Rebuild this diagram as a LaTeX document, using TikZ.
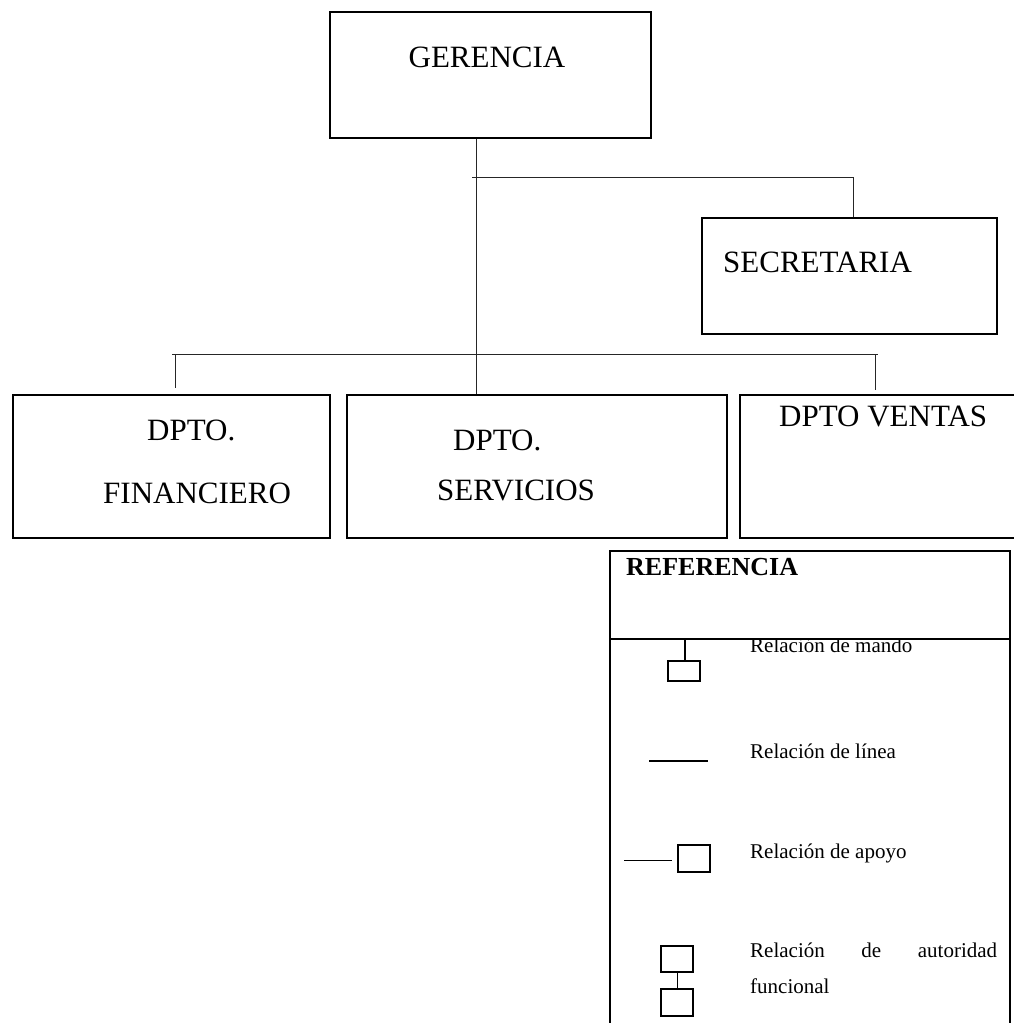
\documentclass[tikz,border=0pt]{standalone}
\usepackage{fontspec}
\setmainfont{Liberation Serif}
\usetikzlibrary{calc}
\begin{document}
\begin{tikzpicture}[x=1pt,y=-1pt,
  orgbox/.style={draw=black, line width=1.6pt, anchor=north west, inner sep=0pt},
  conn/.style={draw=black!85, line width=1pt},
  lbl/.style={anchor=base west, inner sep=0pt, font=\fontsize{31}{37}\selectfont},
  leglbl/.style={anchor=base west, inner sep=0pt, font=\fontsize{21}{25}\selectfont},
  legsym/.style={draw=black, line width=2.6pt},
]
\useasboundingbox (0,0) rectangle (1014,1023);
\clip (0,0) rectangle (1014,1023);

% organisation boxes
\node[orgbox, minimum width=321pt, minimum height=126pt] (ger) at (329,11) {};
\node[orgbox, minimum width=295pt, minimum height=116pt] (sec) at (701,217) {};
\node[orgbox, minimum width=317pt, minimum height=143pt] (fin) at (12,394) {};
\node[orgbox, minimum width=380pt, minimum height=143pt] (serv) at (346,394) {};
\node[orgbox, minimum width=290pt, minimum height=143pt] (ven) at (739,394) {};

% box labels
\node[lbl, anchor=base] (tger) at (487,67) {GERENCIA};
\node[lbl] (tsec) at (723,272) {SECRETARIA};
\node[lbl] (tfin1) at (147,440) {DPTO.};
\node[lbl] (tfin2) at (103,503) {FINANCIERO};
\node[lbl] (tserv1) at (453,450) {DPTO.};
\node[lbl] (tserv2) at (437,500) {SERVICIOS};
\node[lbl] (tven) at (779,426) {DPTO VENTAS};

% connectors
\coordinate (trunk) at (476,0);
\coordinate (secjoin) at (472,177);
\coordinate (secdrop) at (853,0);
\coordinate (barL) at (172,354);
\coordinate (barR) at (878,354);
\coordinate (finend) at (175,388);
\coordinate (venend) at (875,390);

\draw[conn] (ger.south -| trunk) -- (serv.north -| trunk);
\draw[conn] (secjoin) -| (sec.north -| secdrop);
\draw[conn] (barL) -- (barR);
\draw[conn] (barL -| finend) -- (finend);
\draw[conn] (barR -| venend) -- (venend);

% legend frame
\draw[line width=1.6pt] (610,1040) -- (610,551) -- (1010,551) -- (1010,1040);
\draw[line width=1.6pt] (610,639) -- (1010,639);
\node[anchor=base west, inner sep=0pt, font=\fontsize{26}{31}\selectfont\bfseries] (legtitle) at (626,575) {REFERENCIA};

% legend: relacion de mando
\begin{scope}
  \clip (610,640) rectangle (1010,700);
  \node[leglbl] (lmando) at (750,652) {Relación de mando};
\end{scope}
\draw[legsym] (685,639) -- (685,661);
\draw[legsym] (668,661) rectangle (700,681);

% legend: relacion de linea
\draw[line width=2pt] (649,761) -- (708,761);
\node[leglbl] (llinea) at (750,758) {Relación de línea};

% legend: relacion de apoyo
\draw[line width=1pt] (624,860) -- (672,860);
\draw[legsym] (678,845) rectangle (710,872);
\node[leglbl] (lapoyo) at (750,858) {Relación de apoyo};

% legend: relacion de autoridad funcional
\draw[legsym] (661,946) rectangle (693,972);
\draw[line width=1pt] (677,972) -- (677,989);
\draw[legsym] (661,989) rectangle (693,1016);
\node[leglbl] (lauto1) at (750,957) {\hbox to 247pt{Relación\hfill de\hfill autoridad}};
\node[leglbl] (lauto2) at (750,993) {funcional};
\end{tikzpicture}
\end{document}
